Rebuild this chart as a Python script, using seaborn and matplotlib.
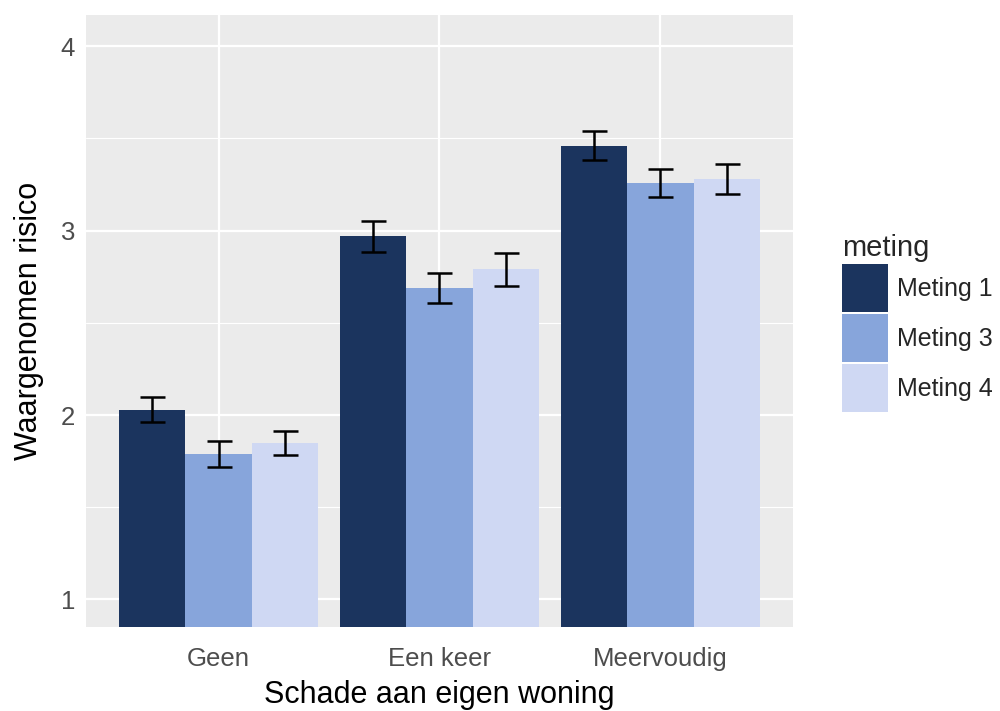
import pandas as pd
import numpy as np
import matplotlib
matplotlib.use("Agg")
import matplotlib.pyplot as plt
import seaborn as sns

# values
categories = ["Geen", "Een keer", "Meervoudig"]
metingen = ["Meting 1", "Meting 3", "Meting 4"]
means = {
    "Meting 1": [2.03, 2.97, 3.46],
    "Meting 3": [1.79, 2.69, 3.26],
    "Meting 4": [1.85, 2.79, 3.28],
}
errors = {
    "Meting 1": [0.068, 0.083, 0.078],
    "Meting 3": [0.070, 0.083, 0.077],
    "Meting 4": [0.065, 0.088, 0.082],
}
colors = ["#1B345E", "#87A5DB", "#CFD8F3"]

rows = []
for m in metingen:
    for c, v, e in zip(categories, means[m], errors[m]):
        rows.append({"schade": c, "meting": m, "risico": v, "se": e})
df = pd.DataFrame(rows)

sns.set_theme(style="darkgrid")
plt.rcParams["font.family"] = ["Liberation Sans", "DejaVu Sans"]

fig = plt.figure(figsize=(10, 7.11), dpi=100)
ax = fig.add_axes([0.086, 0.118, 0.707, 0.861])
ax.set_facecolor("#EBEBEB")

sns.barplot(data=df, x="schade", y="risico", hue="meting", order=categories,
            hue_order=metingen, palette=colors, errorbar=None, width=0.9,
            saturation=1, linewidth=0, ax=ax)

# error bars on top of each bar
for m, cont in zip(metingen, ax.containers):
    xs = [p.get_x() + p.get_width() / 2 for p in cont.patches]
    ax.errorbar(xs, means[m], yerr=errors[m], fmt="none", ecolor="black",
                elinewidth=1.8, capsize=9, capthick=1.8, zorder=5)

ax.set_ylim(0.85, 4.17)
ax.set_xlim(-0.6, 2.6)
ax.set_yticks([1, 2, 3, 4])
ax.set_yticks([1.5, 2.5, 3.5], minor=True)
ax.grid(True, which="major", color="white", linewidth=1.6)
ax.grid(True, which="minor", axis="y", color="white", linewidth=0.8)
ax.set_axisbelow(True)
for s in ax.spines.values():
    s.set_visible(False)

ax.tick_params(axis="both", which="major", length=4, width=1.2, color="#333333",
               labelcolor="#4D4D4D", labelsize=18.5, pad=4)
ax.tick_params(axis="x", which="major", pad=10)
ax.tick_params(axis="both", which="minor", length=0)
ax.set_xlabel("Schade aan eigen woning", fontsize=22, color="black", labelpad=7)
ax.set_ylabel("Waargenomen risico", fontsize=22, color="black", labelpad=12)

handles, labels = ax.get_legend_handles_labels()
ax.legend(handles, labels, title="meting", loc="upper left",
          bbox_to_anchor=(0.842, 0.671), bbox_transform=fig.transFigure,
          frameon=False, fontsize=18, title_fontsize=21, handlelength=1.84,
          handleheight=2.58, handletextpad=0.36, labelspacing=0.08,
          borderpad=0, borderaxespad=0)
ax.get_legend()._legend_box.align = "left"

fig.savefig("out.png", dpi=100)
